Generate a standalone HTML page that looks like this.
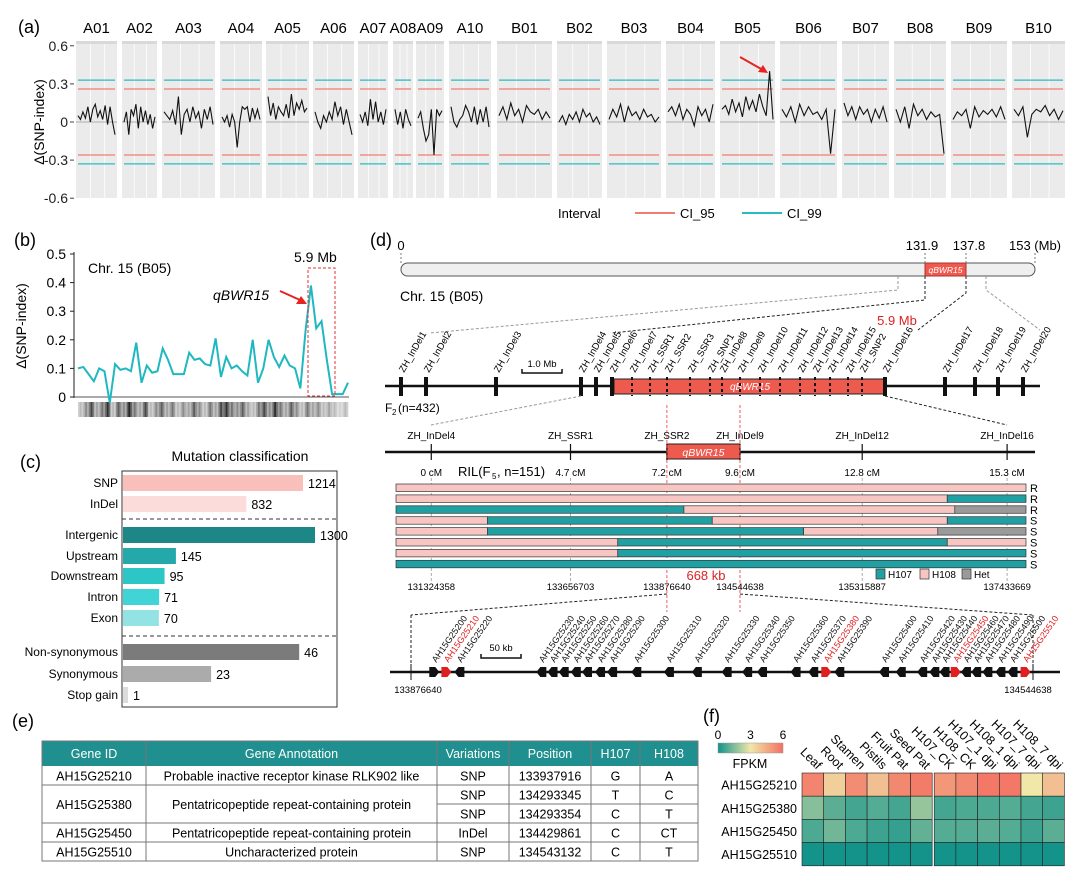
<!DOCTYPE html>
<html><head><meta charset="utf-8">
<style>
html,body{margin:0;padding:0;background:#fff;}
svg{display:block;font-family:"Liberation Sans",Arial,sans-serif;}
</style></head>
<body>
<svg id="fig" width="1080" height="881" viewBox="0 0 1080 881" xmlns="http://www.w3.org/2000/svg">
<g id="pa"></g>
<g id="pb"></g>
<g id="pc"></g>
<g id="pd"></g>
<g id="pe"></g>
<g id="pf"></g>
</svg>
<script>
// ===== Panel (a) data =====
const chromNames=["A01","A02","A03","A04","A05","A06","A07","A08","A09","A10","B01","B02","B03","B04","B05","B06","B07","B08","B09","B10"];
const deltaSNP=[
[0.05,0.02,0.08,0.03,0.12,0.0,0.10,0.14,0.04,0.09,0.02,0.13,-0.02,0.12,0.0,-0.1],
[0.0,0.08,-0.1,0.1,0.05,0.14,-0.05,0.12,0.0,0.09,-0.02,0.06,-0.05,0.04],
[0.08,0.05,0.02,0.09,-0.02,0.2,-0.1,0.06,0.1,0.0,0.12,0.03,0.08,-0.05,0.1,0.02,0.12,-0.02],
[0.04,0.0,0.05,-0.04,0.06,0.0,-0.2,0.0,0.12,0.1,0.12,0.0,0.11,0.03,0.1,0.02],
[0.2,0.05,0.15,0.02,0.12,0.08,0.05,0.14,0.03,0.22,0.05,0.15,0.1,0.17,0.08,0.11],
[0.08,0.0,-0.05,0.05,0.0,0.08,0.02,0.16,0.05,0.12,-0.02,0.1,0.0,-0.1],
[0.06,0.0,0.08,-0.03,0.18,0.02,0.16,0.0,0.08,-0.02,0.1],
[0.1,-0.02,0.08,-0.05,0.1,0.02,-0.03],
[0.03,0.08,-0.05,-0.15,-0.1,0.1,-0.26,0.1,0.05,0.09],
[0.12,0.0,-0.04,0.02,0.05,0.13,0.08,0.0,0.12,-0.02,0.1,0.0,0.12,-0.04],
[0.05,0.12,0.02,0.15,0.05,0.1,0.0,0.13,0.08,0.06,0.1,0.02,0.08,0.03],
[0.0,0.05,-0.02,0.06,0.02,0.08,0.0,0.1,0.04,0.07,0.0,0.04,-0.02],
[0.02,0.1,0.04,0.14,0.0,0.12,0.05,0.08,0.02,0.1,0.04,0.06,0.0,0.04],
[0.08,0.12,0.05,0.14,0.02,0.1,0.06,-0.03,0.12,0.05,0.1,0.0,0.14],
[0.1,0.13,0.06,0.18,0.08,0.15,0.04,0.2,0.1,0.17,0.08,0.22,0.12,0.05,0.4,0.02],
[0.1,0.04,0.12,0.0,0.14,0.05,0.12,0.06,0.08,0.02,0.1,-0.25,0.1],
[0.15,0.05,0.12,0.02,0.12,0.06,0.1,0.0,0.1,0.03,0.12,0.0],
[0.1,0.0,0.12,-0.05,0.14,0.05,0.1,0.02,0.08,0.04,0.06,-0.25],
[0.02,0.08,0.05,0.1,-0.05,0.12,0.04,0.09,0.06,0.1,0.04,0.12,0.02],
[0.1,0.05,0.12,-0.12,0.06,0.1,0.08,0.13,0.05,0.1,0.02,0.09]
];
const ci95=[0.26,0.26,0.26,0.26,0.26,0.26,0.26,0.26,0.26,0.26,0.26,0.26,0.26,0.26,0.26,0.26,0.26,0.26,0.26,0.26];
const ci99=[0.33,0.33,0.33,0.33,0.33,0.33,0.33,0.33,0.33,0.33,0.33,0.33,0.33,0.33,0.33,0.33,0.33,0.33,0.33,0.33];
const aTicks=[0.6,0.3,0,-0.3,-0.6];
const aTickLabels=["0.6","0.3","0","-0.3","-0.6"];
const chromSpans=[[76,117],[122,157],[162,215],[220,262],[266,309],[313,354],[358,388],[393,413],[416,444],[449,491],[497,552],[557,602],[607,661],[666,715],[720,775],[780,837],[842,889],[894,946],[951,1007],[1012,1065]];

// ===== Panel (b) data =====
const bValues=[0.10,0.105,0.08,0.055,0.10,0.09,-0.02,0.115,0.095,0.10,0.09,0.19,0.05,0.11,0.085,0.09,0.17,0.13,0.08,0.08,0.08,0.155,0.13,0.135,0.115,0.11,0.205,0.07,0.14,0.10,0.11,0.09,0.075,0.20,0.05,0.10,0.20,0.14,0.105,0.145,0.11,0.10,0.03,0.235,0.39,0.24,0.265,0.13,0.01,0.01,0.01,0.05];
const bTicks=[0,0.1,0.2,0.3,0.4,0.5];
const bTickLabels=["0","0.1","0.2","0.3","0.4","0.5"];
const bDensity=[0.3,0.5,0.8,0.4,0.6,0.9,0.3,0.7,0.5,0.95,0.6,0.4,0.8,0.3,0.5,0.7,0.4,0.6,0.3,0.5,0.4,0.7,0.5,0.3,0.6,0.4,0.8,0.9,0.6,0.5,0.7,0.4,0.3,0.6,0.8,0.5,0.9,0.6,0.4,0.7,0.5,0.3,0.6,0.4,0.5,0.3,0.4,0.3,0.2,0.3];

// ===== Panel (c) data =====
const cCategories=["SNP","InDel","Intergenic","Upstream","Downstream","Intron","Exon","Non-synonymous","Synonymous","Stop gain"];
const cValues=[1214,832,1300,145,95,71,70,46,23,1];
const cGroups=[0,0,1,1,1,1,1,2,2,2];
const cColors=["#f8bfbb","#fbdcda","#1d8788","#24a8aa","#2cc6c6","#40d4d6","#94e3e4","#7b7b7b","#ababab","#dcdcdc"];

// ===== Panel (d) data =====
const chromLenMb=153, qStart=131.9, qEnd=137.8;
const f2Markers=["ZH_InDel1","ZH_InDel2","ZH_InDel3","ZH_InDel4","ZH_InDel5","ZH_InDel6","ZH_InDel7","ZH_SSR1","ZH_SSR2","ZH_SSR3","ZH_SNP1","ZH_InDel8","ZH_InDel9","ZH_InDel10","ZH_InDel11","ZH_InDel12","ZH_InDel13","ZH_InDel14","ZH_InDel15","ZH_SNP2","ZH_InDel16","ZH_InDel17","ZH_InDel18","ZH_InDel19","ZH_InDel20"];
const rilMarkers=["ZH_InDel4","ZH_SSR1","ZH_SSR2","ZH_InDel9","ZH_InDel12","ZH_InDel16"];
const rilCM=[0,4.7,7.2,9.6,12.8,15.3];
const rilCMLabels=["0 cM","4.7 cM","7.2 cM","9.6 cM","12.8 cM","15.3 cM"];
const rilPhys=["131324358","133656703","133876640","134544638","135315887","137433669"];
const rilFrac=[0.056,0.277,0.43,0.546,0.74,0.970];
const rilRows=[
 [[0,1,"B"]],
 [[0,0.875,"B"],[0.875,1,"A"]],
 [[0,0.457,"A"],[0.457,0.887,"B"],[0.887,1,"H"]],
 [[0,0.145,"B"],[0.145,0.502,"A"],[0.502,0.875,"B"],[0.875,1,"A"]],
 [[0,0.145,"B"],[0.145,0.647,"A"],[0.647,0.86,"B"],[0.86,1,"H"]],
 [[0,0.352,"B"],[0.352,0.875,"A"],[0.875,1,"B"]],
 [[0,0.352,"B"],[0.352,1,"A"]],
 [[0,1,"A"]]
];
const rilPheno=["R","R","R","S","S","S","S","S"];
const genes=["AH15G25200","AH15G25210","AH15G25220","AH15G25230","AH15G25240","AH15G25250","AH15G25260","AH15G25270","AH15G25280","AH15G25290","AH15G25300","AH15G25310","AH15G25320","AH15G25330","AH15G25340","AH15G25350","AH15G25360","AH15G25370","AH15G25380","AH15G25390","AH15G25400","AH15G25410","AH15G25420","AH15G25430","AH15G25440","AH15G25450","AH15G25460","AH15G25470","AH15G25480","AH15G25490","AH15G25500","AH15G25510"];
const geneKb=[25,38,52,140,152,164,177,189,203,216,242,277,307,339,361,377,413,432,446,460,508,526,549,562,573,585,596,607,619,633,646,660];
const geneCandidate=[0,1,0,0,0,0,0,0,0,0,0,0,0,0,0,0,0,0,1,0,0,0,0,0,0,1,0,0,0,0,0,1];

// ===== Panel (e) data =====
const tHeaders=["Gene ID","Gene Annotation","Variations","Position","H107","H108"];
const tRows=[
 ["AH15G25210","Probable inactive receptor kinase RLK902 like","SNP","133937916","G","A"],
 ["AH15G25380","Pentatricopeptide repeat-containing protein","SNP","134293345","T","C"],
 ["","","SNP","134293354","C","T"],
 ["AH15G25450","Pentatricopeptide repeat-containing protein","InDel","134429861","C","CT"],
 ["AH15G25510","Uncharacterized protein","SNP","134543132","C","T"]
];

// ===== Panel (f) data =====
const fGenes=["AH15G25210","AH15G25380","AH15G25450","AH15G25510"];
const fTissues=["Leaf","Root","Stamen","Pistils","Fruit Pat","Seed Pat","H107_CK","H108_CK","H107_1 dpi","H108_1 dpi","H107_7 dpi","H108_7 dpi"];
const fpkm=[
 [5.5,3.6,5.3,4.0,5.4,5.7,5.0,5.4,5.8,5.8,3.0,4.0],
 [1.6,1.0,0.7,0.9,0.7,1.8,0.7,0.8,0.8,0.9,0.7,0.6],
 [0.8,1.3,0.8,0.6,0.5,1.1,0.9,0.9,1.0,0.9,0.6,1.0],
 [0.05,0.05,0.05,0.05,0.05,0.05,0.05,0.05,0.05,0.05,0.05,0.05]
];
const fLegendTicks=[0,3,6];

// ===== helpers =====
const NS="http://www.w3.org/2000/svg";
function mk(parent,tag,attrs,text){const e=document.createElementNS(NS,tag);for(const k in attrs)e.setAttribute(k,attrs[k]);if(text!==undefined)e.textContent=text;parent.appendChild(e);return e;}
const PA=document.getElementById('pa'),PB=document.getElementById('pb'),PC=document.getElementById('pc'),PD=document.getElementById('pd'),PE=document.getElementById('pe'),PF=document.getElementById('pf');
let el;

// ===== Panel (a) =====
el=mk(PA,'text',{x:18,y:33,'font-size':18},'(a)');


const ya=v=>122-v*127;
aTicks.forEach((t,i)=>{
  el=mk(PA,'text',{x:68,y:ya(t)+5,'font-size':14,'text-anchor':'end',fill:'#222'},aTickLabels[i]);
  
  
  el=mk(PA,'line',{x1:70,x2:74,y1:ya(t),y2:ya(t),stroke:'#444'});
  
  
});
el=mk(PA,'text',{x:0,y:0,'font-size':14,'text-anchor':'middle',transform:'translate(44,122) rotate(-90)'},'Δ(SNP-index)');


chromNames.forEach((c,i)=>{
  const [x0,x1]=chromSpans[i];
  el=mk(PA,'rect',{x:x0,y:41,width:x1-x0,height:3,fill:'#d9d9d9'});
  
  
  el=mk(PA,'rect',{x:x0,y:44,width:x1-x0,height:154,fill:'#ebebeb'});
  
  
  [0.35,0.7].forEach(f=>{mk(PA,'line',{x1:x0+(x1-x0)*f,x2:x0+(x1-x0)*f,y1:44,y2:198,stroke:'#fff','stroke-width':0.8});});
  el=mk(PA,'text',{x:(x0+x1)/2,y:33,'font-size':15,'text-anchor':'middle'},c);
  
  
  mk(PA,'line',{x1:x0,x2:x1,y1:ya(0),y2:ya(0),stroke:'#999','stroke-width':0.8});
  const vals=deltaSNP[i], n=vals.length;
  const xs=k=>x0+2+(x1-x0-4)*k/(n-1);
  [[ci99[i],'#27bcc0'],[ci95[i],'#f07d72'],[-ci95[i],'#f07d72'],[-ci99[i],'#27bcc0']].forEach(([v,col])=>{
    el=mk(PA,'line',{x1:x0+2,x2:x1-2,y1:ya(v),y2:ya(v),stroke:col,'stroke-width':1.3});
    
    
  });
  el=mk(PA,'polyline',{points:vals.map((v,k)=>xs(k)+','+ya(v)).join(' '),fill:'none',stroke:'#111','stroke-width':1.1});
  
  
});
el=mk(PA,'line',{x1:740,y1:57,x2:763,y2:70,stroke:'#e52420','stroke-width':2});


mk(PA,'polygon',{points:'768,73 758,72 763,65',fill:'#e52420'});
el=mk(PA,'text',{x:558,y:218,'font-size':13},'Interval');


el=mk(PA,'line',{x1:635,x2:675,y1:213,y2:213,stroke:'#f07d72','stroke-width':2});


el=mk(PA,'text',{x:680,y:218,'font-size':13},'CI_95');


el=mk(PA,'line',{x1:742,x2:782,y1:213,y2:213,stroke:'#27bcc0','stroke-width':2});


el=mk(PA,'text',{x:787,y:218,'font-size':13},'CI_99');



// ===== Panel (b) =====
el=mk(PB,'text',{x:14,y:246,'font-size':18},'(b)');


const yb=v=>397-v*286, bx0=78,bx1=348;
mk(PB,'line',{x1:74,x2:74,y1:252,y2:398,stroke:'#222'});
mk(PB,'line',{x1:74,x2:349,y1:397,y2:397,stroke:'#555'});
bTicks.forEach((t,i)=>{
  mk(PB,'line',{x1:70,x2:74,y1:yb(t),y2:yb(t),stroke:'#222'});
  el=mk(PB,'text',{x:66,y:yb(t)+5,'font-size':14,'text-anchor':'end'},bTickLabels[i]);
  
  
});
el=mk(PB,'text',{x:0,y:0,'font-size':14,'text-anchor':'middle',transform:'translate(26,326) rotate(-90)'},'Δ(SNP-index)');


const bw=(bx1-bx0)/bDensity.length;
bDensity.forEach((d,i)=>{
  for(let k=0;k<3;k++){
    const g=Math.round(255-(d*(k==1?1:0.7))*230);
    el=mk(PB,'rect',{x:bx0+i*bw+k*bw/3,y:402,width:bw/3+0.3,height:15,fill:`rgb(${g},${g},${g})`});
    
    
  }
});
el=mk(PB,'polyline',{points:bValues.map((v,i)=>(bx0+(bx1-bx0)*i/(bValues.length-1))+','+yb(v)).join(' '),fill:'none',stroke:'#20b8c0','stroke-width':2});


el=mk(PB,'rect',{x:308,y:268,width:27,height:128,fill:'none',stroke:'#e53030','stroke-dasharray':'3,2','stroke-width':1});


el=mk(PB,'text',{x:88,y:273,'font-size':14},'Chr. 15 (B05)');


el=mk(PB,'text',{x:294,y:262,'font-size':14},'5.9 Mb');


el=mk(PB,'text',{x:213,y:300,'font-size':14,'font-style':'italic'},'qBWR15');


mk(PB,'line',{x1:280,y1:291,x2:300,y2:300,stroke:'#e52420','stroke-width':2});
mk(PB,'polygon',{points:'307,304 296,304 301,296',fill:'#e52420'});

// ===== Panel (c) =====
el=mk(PC,'text',{x:20,y:468,'font-size':18},'(c)');


el=mk(PC,'text',{x:240,y:461,'font-size':14,'text-anchor':'middle'},'Mutation classification');


el=mk(PC,'rect',{x:122,y:471,width:215,height:236,fill:'#fff',stroke:'#333','stroke-width':1});


const cRowY=[483,504,535,556,576,597,618,652,674,695];
function cScale(v,g){
  if(g===0) return v*180/1214;
  if(g===1) return v>500? v*192/1300 : 20+0.227*v;
  return v*3.83;
}
cCategories.forEach((c,i)=>{
  const w=Math.max(cScale(cValues[i],cGroups[i]),5), y=cRowY[i];
  el=mk(PC,'rect',{x:123,y:y-8,width:w,height:16,fill:cColors[i]});
  
  
  el=mk(PC,'text',{x:118,y:y+4,'font-size':12,'text-anchor':'end'},c);
  
  
  el=mk(PC,'text',{x:123+w+5,y:y+5,'font-size':12.5},String(cValues[i]));
  
  
});
[519,636].forEach(y=>{
  el=mk(PC,'line',{x1:122,x2:337,y1:y,y2:y,stroke:'#333','stroke-dasharray':'4,3'});
  
  
});

// ===== Panel (d) =====
el=mk(PD,'text',{x:370,y:246,'font-size':18},'(d)');


const cx0=401,cx1=1035,qx0=925,qx1=966;
const xc=mb=>mb<=qStart? cx0+(qx0-cx0)*mb/qStart : (mb<=qEnd? qx0+(qx1-qx0)*(mb-qStart)/(qEnd-qStart) : qx1+(cx1-qx1)*(mb-qEnd)/(chromLenMb-qEnd));
el=mk(PD,'rect',{x:cx0,y:263,width:cx1-cx0,height:13,rx:6.5,fill:'#efefef',stroke:'#555'});


el=mk(PD,'rect',{x:xc(qStart),y:263,width:xc(qEnd)-xc(qStart),height:13,fill:'#ef5a4f',stroke:'#a33'});


el=mk(PD,'text',{x:(xc(qStart)+xc(qEnd))/2,y:273,'font-size':8.5,fill:'#fff','font-style':'italic','text-anchor':'middle'},'qBWR15');
[[0,'0','middle'],[qStart,'131.9','middle'],[qEnd,'137.8','middle'],[chromLenMb,'153 (Mb)','middle']].forEach(([m,t,a])=>{
  el=mk(PD,'text',{x:m===qStart?xc(m)-3:(m===qEnd?xc(m)+3:xc(m)),y:250,'font-size':13,'text-anchor':a},t);
  
  
  mk(PD,'line',{x1:xc(m),x2:xc(m),y1:253,y2:263,stroke:'#777','stroke-dasharray':'2,2'});
});
el=mk(PD,'text',{x:400,y:301,'font-size':14},'Chr. 15 (B05)');


mk(PD,'polyline',{points:'898,276 898,290 430,333',fill:'none',stroke:'#999','stroke-dasharray':'3,2'});
mk(PD,'polyline',{points:`${xc(qStart)},276 ${xc(qStart)},300 612,333`,fill:'none',stroke:'#222','stroke-dasharray':'3,2'});
mk(PD,'polyline',{points:`${xc(qEnd)},276 ${xc(qEnd)},293 918,330`,fill:'none',stroke:'#222','stroke-dasharray':'3,2'});
mk(PD,'polyline',{points:'986,276 986,290 1040,330',fill:'none',stroke:'#999','stroke-dasharray':'3,2'});
el=mk(PD,'text',{x:897,y:325,'font-size':13,fill:'#d22','text-anchor':'middle'},'5.9 Mb');


// F2 map
el=mk(PD,'line',{x1:385,x2:1040,y1:386,y2:386,stroke:'#111','stroke-width':2.5});


el=mk(PD,'rect',{x:614,y:379,width:271,height:15,fill:'#ef5a4f',stroke:'#222'});


el=mk(PD,'text',{x:750,y:390,'font-size':10,fill:'#fff','font-style':'italic','text-anchor':'middle'},'qBWR15');
const f2X=[401,426,496,581,596,612,632,650,667,690,710,722,740,760,780,800,815,830,848,862,885,945,975,998,1023];
f2Markers.forEach((m,i)=>{
  const x=f2X[i], inside=x>613&&x<884;
  el=mk(PD,'line',{x1:x,x2:x,y1:377,y2:396,stroke:'#111','stroke-width':inside?2:4,'stroke-dasharray':inside?'3,3':'none'});
  
  
  el=mk(PD,'text',{x:0,y:0,'font-size':9.5,transform:`translate(${x+3},373) rotate(-60)`},m);
  
  
});
mk(PD,'polyline',{points:'522,369 522,373 562,373 562,369',fill:'none',stroke:'#111','stroke-width':1.5});
el=mk(PD,'text',{x:542,y:367,'font-size':9.5,'text-anchor':'middle'},'1.0 Mb');


el=mk(PD,'text',{x:385,y:412,'font-size':12},'F');
mk(PD,'text',{x:392,y:415,'font-size':8},'2');
mk(PD,'text',{x:398,y:412,'font-size':12},'(n=432)');
mk(PD,'line',{x1:581,y1:396,x2:431,y2:425,stroke:'#999','stroke-dasharray':'3,2'});
mk(PD,'line',{x1:885,y1:396,x2:1007,y2:425,stroke:'#222','stroke-dasharray':'3,2'});
// RIL map
const rx0=396,rx1=1026, xr=f=>rx0+(rx1-rx0)*f;
el=mk(PD,'line',{x1:385,x2:1035,y1:452,y2:452,stroke:'#111','stroke-width':2.5});


el=mk(PD,'rect',{x:xr(rilFrac[2]),y:444,width:xr(rilFrac[3])-xr(rilFrac[2]),height:15,fill:'#ef5a4f',stroke:'#222'});


el=mk(PD,'text',{x:(xr(rilFrac[2])+xr(rilFrac[3]))/2,y:456,'font-size':10.5,fill:'#fff','font-style':'italic','text-anchor':'middle'},'qBWR15');
rilMarkers.forEach((m,i)=>{
  const x=xr(rilFrac[i]);
  mk(PD,'line',{x1:x,x2:x,y1:444,y2:460,stroke:'#111','stroke-width':1.2});
  el=mk(PD,'text',{x:x,y:439,'font-size':10,'text-anchor':'middle'},m);
  
  
  el=mk(PD,'text',{x:x,y:476,'font-size':10,'text-anchor':'middle'},rilCMLabels[i]);
  
  
  el=mk(PD,'text',{x:x,y:590,'font-size':9.5,'text-anchor':'middle'},rilPhys[i]);
  
  
  const red=(i==2||i==3);
  mk(PD,'line',{x1:x,x2:x,y1:red?405:478,y2:red?612:582,stroke:red?'#e33':'#999','stroke-dasharray':'3,2','stroke-width':0.8});
});
mk(PD,'text',{x:458,y:476,'font-size':13},'RIL(F');
mk(PD,'text',{x:492,y:479,'font-size':8},'5');
mk(PD,'text',{x:497,y:476,'font-size':13},', n=151)');
const gtCol={A:'#20a0a2',B:'#f8c6c2',H:'#9a9a9a'};
rilRows.forEach((row,r)=>{
  const y=484+r*10.9;
  row.forEach(([a,b,g])=>{
    el=mk(PD,'rect',{x:xr(a),y:y,width:xr(b)-xr(a),height:7.5,fill:gtCol[g],stroke:'#333','stroke-width':0.7});
    
    
  });
  el=mk(PD,'text',{x:1030,y:y+8,'font-size':11},rilPheno[r]);
  
  
});
[['H107','A',876],['H108','B',920],['Het','H',962]].forEach(([t,g,x])=>{
  el=mk(PD,'rect',{x:x,y:569,width:9,height:10,fill:gtCol[g],stroke:'#333','stroke-width':0.7});
  
  
  mk(PD,'text',{x:x+12,y:578,'font-size':10},t);
});
el=mk(PD,'text',{x:706,y:580,'font-size':13,fill:'#d22','text-anchor':'middle'},'668 kb');


mk(PD,'line',{x1:667,y1:594,x2:411,y2:615,stroke:'#222','stroke-dasharray':'3,2'});
mk(PD,'line',{x1:740,y1:594,x2:1033,y2:615,stroke:'#222','stroke-dasharray':'3,2'});
// gene map
const gx0=411,gx1=1033, xg=kb=>gx0+(gx1-gx0)*kb/668;
mk(PD,'line',{x1:411,x2:411,y1:615,y2:680,stroke:'#222','stroke-dasharray':'3,2'});
mk(PD,'line',{x1:1033,x2:1033,y1:615,y2:680,stroke:'#222','stroke-dasharray':'3,2'});
el=mk(PD,'line',{x1:390,x2:1060,y1:672,y2:672,stroke:'#111','stroke-width':2.5});


mk(PD,'line',{x1:411,x2:411,y1:664,y2:680,stroke:'#111'});
mk(PD,'line',{x1:1033,x2:1033,y1:664,y2:680,stroke:'#111'});
el=mk(PD,'text',{x:418,y:693,'font-size':9.5,'text-anchor':'middle'},'133876640');


el=mk(PD,'text',{x:1028,y:693,'font-size':9.5,'text-anchor':'middle'},'134544638');


mk(PD,'polyline',{points:'481,654 481,658 521,658 521,654',fill:'none',stroke:'#111','stroke-width':1.5});
el=mk(PD,'text',{x:501,y:651,'font-size':9.5,'text-anchor':'middle'},'50 kb');


genes.forEach((g,i)=>{
  const x=xg(geneKb[i]), col=geneCandidate[i]?'#e02020':'#111';
  const fwd=geneCandidate[i]||i<1;
  el=mk(PD,'polygon',{points:fwd?`${x-5},667 ${x+1},667 ${x+5},672 ${x+1},677 ${x-5},677`:`${x+5},667 ${x-1},667 ${x-5},672 ${x-1},677 ${x+5},677`,fill:col});
  
  
  el=mk(PD,'text',{x:0,y:0,'font-size':9,fill:col,transform:`translate(${x+2},663) rotate(-55)`},g);
  
  
});

// ===== Panel (e) =====
el=mk(PE,'text',{x:12,y:727,'font-size':18},'(e)');


const colX=[42,146,437,509,591,640,698];
el=mk(PE,'rect',{x:42,y:741,width:656,height:25,fill:'#1f8f8f'});


tHeaders.forEach((h,i)=>{
  el=mk(PE,'text',{x:(colX[i]+colX[i+1])/2,y:758,'font-size':12.5,fill:'#fff','text-anchor':'middle'},h);
  
  
});
const rowY=[766,785,804,823,842,861];
tRows.forEach((r,ri)=>{
  r.forEach((c,ci)=>{
    if(!c) return;
    let y=(rowY[ri]+rowY[ri+1])/2+5;
    if(ri===1&&ci<2) y=rowY[2]+5;
    el=mk(PE,'text',{x:(colX[ci]+colX[ci+1])/2,y:y,'font-size':12.5,'text-anchor':'middle'},c);
    
    
  });
});
mk(PE,'rect',{x:42,y:741,width:656,height:120,fill:'none',stroke:'#777'});
colX.slice(1,-1).forEach(x=>mk(PE,'line',{x1:x,x2:x,y1:741,y2:861,stroke:'#777'}));
[785,823,842].forEach(y=>mk(PE,'line',{x1:42,x2:698,y1:y,y2:y,stroke:'#777'}));
mk(PE,'line',{x1:437,x2:698,y1:804,y2:804,stroke:'#777'});

// ===== Panel (f) =====
el=mk(PF,'text',{x:703,y:722,'font-size':18},'(f)');


const stops=[[0,[16,146,138]],[3,[240,231,168]],[6,[243,112,98]]];
function heat(v){
  const i=v<=3?0:1,[a,ca]=stops[i],[b,cb]=stops[i+1],t=(v-a)/(b-a);
  return 'rgb('+ca.map((c,k)=>Math.round(c+(cb[k]-c)*t)).join(',')+')';
}
const defs=mk(PF,'defs',{});
const lg=mk(defs,'linearGradient',{id:'fg',x1:0,x2:1,y1:0,y2:0});
[0,1.5,3,4.5,6].forEach(v=>mk(lg,'stop',{offset:v/6,'stop-color':heat(v)}));
el=mk(PF,'rect',{x:718,y:743,width:65,height:10,fill:'url(#fg)',stroke:'#999','stroke-width':0.5});


fLegendTicks.forEach(t=>{
  el=mk(PF,'text',{x:718+65*t/6,y:739,'font-size':12,'text-anchor':'middle'},String(t));
  
  
});
el=mk(PF,'text',{x:750,y:768,'font-size':12.5,'text-anchor':'middle'},'FPKM');


const cw=21.7,rh=23.2,hy0=773;
const hx=j=>802+j*cw+(j>=6?2:0);
fGenes.forEach((g,r)=>{
  el=mk(PF,'text',{x:797,y:hy0+r*rh+rh/2+5,'font-size':12.5,'text-anchor':'end'},g);
  
  
  fpkm[r].forEach((v,j)=>{
    el=mk(PF,'rect',{x:hx(j),y:hy0+r*rh,width:cw,height:rh,fill:heat(v),stroke:'#222','stroke-width':0.6});
    
    
  });
});
fTissues.forEach((t,j)=>{
  el=mk(PF,'text',{x:0,y:0,'font-size':12.5,'text-anchor':'end',transform:`translate(${hx(j)+cw/2+4},${hy0-3}) rotate(45)`},t);
  
  
});
</script>
</body></html>
